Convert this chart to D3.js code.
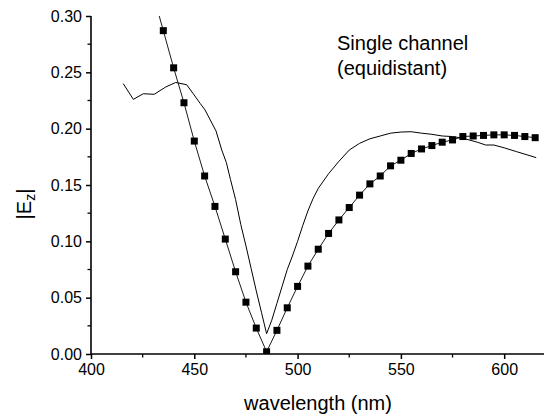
<!DOCTYPE html>
<html>
<head>
<meta charset="utf-8">
<script src="https://cdn.jsdelivr.net/npm/d3@7"></script>
<style>
  body { margin: 0; background: #fff; }
  text { font-family: "Liberation Sans", Arial, sans-serif; fill: #000; }
</style>
</head>
<body>
<div id="chart-area"></div>
<script>
// ticks
const xTicks = [400, 450, 500, 550, 600];
const yTicks = [0.00, 0.05, 0.10, 0.15, 0.20, 0.25, 0.30];

// single channel, squares every 5 nm
const sqWl = [430, 435, 440, 445, 450, 455, 460, 465, 470, 475, 480, 485, 490, 495, 500,
  505, 510, 515, 520, 525, 530, 535, 540, 545, 550, 555, 560, 565, 570, 575, 580,
  585, 590, 595, 600, 605, 610, 615];
const sqE = [0.320, 0.287, 0.254, 0.223, 0.189, 0.158, 0.131, 0.102, 0.073, 0.046, 0.023, 0.002,
  0.021, 0.041, 0.060, 0.078, 0.093, 0.107, 0.119, 0.130, 0.141, 0.151, 0.158, 0.167,
  0.172, 0.178, 0.182, 0.185, 0.188, 0.190, 0.193, 0.1935, 0.194, 0.1945, 0.1945,
  0.194, 0.193, 0.192];

// thin solid curve
const lnWl = [415.6, 420.5, 425.3, 430.6, 436.2, 441, 446.3, 449.5, 452.8, 455.2, 460.5, 463.3,
  465.5, 467.5, 470, 472.5, 475, 477.5, 480, 482.5, 485, 487.5, 490, 492.5, 495, 497.5,
  500, 502.5, 505, 507.5, 510, 515, 520, 525, 530, 535, 540, 545, 550, 555, 560, 565, 570,
  575, 580, 583, 587, 591, 595, 600, 606, 615.5];
const lnE = [0.240, 0.226, 0.231, 0.2305, 0.237, 0.241, 0.239, 0.231, 0.2225, 0.2166, 0.198, 0.181,
  0.170, 0.155, 0.137, 0.115, 0.096, 0.076, 0.056, 0.037, 0.018, 0.030, 0.045, 0.060, 0.075, 0.087,
  0.100, 0.114, 0.127, 0.138, 0.147, 0.160, 0.171, 0.181, 0.187, 0.191, 0.1935, 0.196, 0.197, 0.1973,
  0.196, 0.195, 0.1935, 0.193, 0.1915, 0.190, 0.188, 0.1855, 0.1855, 0.183, 0.1796, 0.1743];

const width = 544, height = 415;

const svg = d3.select("#chart-area").append("svg")
  .attr("width", width).attr("height", height);

let x = d3.scaleLinear().domain([400, 620]).range([91, 545.5]);
let y = d3.scaleLinear().domain([0, 0.30]).range([354, 16]);

svg.append("clipPath").attr("id", "clip")
  .append("rect").attr("x", 91).attr("y", 16).attr("width", 460).attr("height", 338);

// minor ticks
const xMinor = d3.range(425, 620, 50);
const yMinor = d3.range(0.025, 0.3, 0.05);

svg.append("g").selectAll("line").data(xMinor).join("line")
  .attr("x1", d => x(d)).attr("x2", d => x(d))
  .attr("y1", 354).attr("y2", 357.5)
  .attr("stroke", "#000").attr("stroke-width", 1.3);

svg.append("g").selectAll("line").data(yMinor).join("line")
  .attr("x1", 91).attr("x2", 87.5)
  .attr("y1", d => y(d)).attr("y2", d => y(d))
  .attr("stroke", "#000").attr("stroke-width", 1.3);

// axes
const axisBottom = d3.axisBottom(x).tickValues(xTicks).tickSize(5).tickPadding(5).tickFormat(d3.format("d"));
const axisLeft = d3.axisLeft(y).tickValues(yTicks).tickSize(5).tickPadding(4).tickFormat(d3.format(".2f"));

const xGroup = svg.append("g").attr("transform", "translate(0,354)").call(axisBottom);
const yGroup = svg.append("g").attr("transform", "translate(91,0)").call(axisLeft);

[xGroup, yGroup].forEach(g => {
  g.select(".domain").attr("stroke-width", 1.6);
  g.selectAll(".tick line").attr("stroke-width", 1.5);
  g.selectAll("text").attr("font-size", "16px")
    .attr("font-family", "'Liberation Sans', Arial, sans-serif");
});
xGroup.select(".domain").attr("d", "M91,0H544");
yGroup.select(".domain").attr("d", "M0,354V16");

const plot = svg.append("g").attr("clip-path", "url(#clip)");

// solid curve
plot.append("path")
  .datum(lnWl.map((w, i) => [w, lnE[i]]))
  .attr("fill", "none").attr("stroke", "#000").attr("stroke-width", 1)
  .attr("d", d3.line().x(d => x(d[0])).y(d => y(d[1])));

// square series
const sq = sqWl.map((w, i) => [w, sqE[i]]);
plot.append("path")
  .datum(sq)
  .attr("fill", "none").attr("stroke", "#000").attr("stroke-width", 0.9)
  .attr("d", d3.line().x(d => x(d[0])).y(d => y(d[1])));

plot.selectAll("rect.m").data(sq).join("rect")
  .attr("class", "m")
  .attr("x", d => x(d[0]) - 3.5).attr("y", d => y(d[1]) - 3.5)
  .attr("width", 7).attr("height", 7).attr("fill", "#000");

// labels
svg.append("text")
  .attr("x", 318).attr("y", 410)
  .attr("font-size", "20px").attr("text-anchor", "middle")
  .text("wavelength (nm)");

const yl = svg.append("text")
  .attr("transform", "translate(31,204) rotate(-90)")
  .attr("font-size", "20px").attr("text-anchor", "middle");
yl.append("tspan").text("|E");
yl.append("tspan").attr("font-size", "14px").attr("dy", 4).text("z");
yl.append("tspan").attr("dy", -4).text("|");

const note = svg.append("text").attr("font-size", "20px");
note.append("tspan").attr("x", 337).attr("y", 50).text("Single channel");
note.append("tspan").attr("x", 337).attr("y", 75).text("(equidistant)");
</script>
</body>
</html>
